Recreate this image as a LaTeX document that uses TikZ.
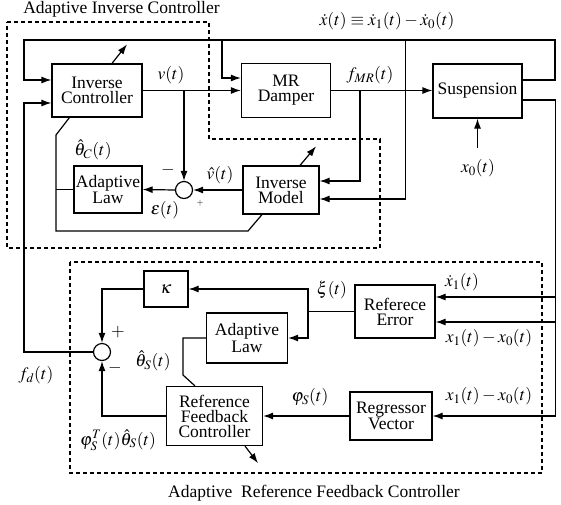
\documentclass[tikz,border=0pt]{standalone}
\usepackage{mathptmx}
\usepackage[no-math]{fontspec}
\setmainfont{Liberation Serif}
\usetikzlibrary{arrows.meta}

\begin{document}
\begin{tikzpicture}[
  x=1pt, y=-1pt,
  font=\fontsize{17.5}{15}\selectfont,
  block/.style={draw, line width=1.2pt, align=center, inner sep=0pt},
  sum/.style={draw, line width=1.2pt, circle, minimum size=17pt, inner sep=0pt},
  sig/.style={inner sep=0.5pt},
  wire/.style={line width=1.2pt},
  arrow/.style={-{Latex[length=10pt,width=7pt]}, line width=1.2pt},
  group/.style={dash pattern=on 4pt off 3pt, line width=1.1pt}
]
\useasboundingbox (0,0) rectangle (561,504);

% blocks of the plant and the inverse controller
\node[block, minimum width=90pt, minimum height=53pt] (invctrl) at (97,90.5) {Inverse\\Controller};
\node[block, minimum width=89pt, minimum height=54pt] (damper) at (286,90.5) {MR\\Damper};
\node[block, minimum width=89pt, minimum height=54pt] (susp) at (477.5,91) {Suspension};
\node[block, minimum width=76pt, minimum height=48pt] (invmodel) at (281,190) {Inverse\\Model};
\node[block, minimum width=68pt, minimum height=47pt] (lawC) at (108,189.5) {Adaptive\\Law};
\node[sum] (sumC) at (184,190) {};

% blocks of the reference feedback controller
\node[block, minimum width=44pt, minimum height=36pt] (kappa) at (166,289) {$\kappa$};
\node[block, minimum width=80pt, minimum height=53pt] (referr) at (395,311.5) {Referece\\Error};
\node[block, minimum width=81pt, minimum height=50pt] (lawS) at (247,338) {Adaptive\\Law};
\node[block, minimum width=96pt, minimum height=59pt] (rfc) at (214.5,416) {Reference\\Feedback\\Controller};
\node[block, minimum width=82pt, minimum height=48pt] (regvec) at (391,416) {Regressor\\Vector};
\node[sum] (sumS) at (102,352) {};

% dashed groups
\draw[group] (7,22) -- (209,22) -- (209,139) -- (380,139) -- (380,248) -- (7,248) -- cycle;
\draw[group] (70,262) rectangle (542,473);
\node[sig] (titleC) at (121.5,9) {Adaptive Inverse Controller};
\node[sig] (titleS) at (314,493) {Adaptive\enspace Reference Feedback Controller};

% upper loop
\coordinate (tl) at (24,40);
\coordinate (tr) at (555,40);
\draw[arrow] ([yshift=11pt]susp.east) -| (tr) -- (tl) |- ([yshift=10.5pt]invctrl.west);
\draw[arrow] (222,40) |- ([yshift=12.5pt]damper.west);
\draw[arrow] (405.5,40) |- ([yshift=-9pt]invmodel.east);
\draw[arrow] (invctrl.east) -- (damper.west);
\draw[arrow] (184,90.5) -- (sumC.north);
\draw[arrow] (damper.east) -- (damper.east -| susp.west);
\draw[arrow] (360,90.5) |- ([yshift=9pt]invmodel.east);
\draw[arrow] (invmodel.west) -- (sumC.east);
\draw[arrow] (sumC.west) -- (lawC.east);
\draw[wire] (lawC.west) -- (56,189.5);
\draw[wire] ([xshift=18pt]invctrl.south west) -- (56,135) -- (56,231) -- (248,231) -- ([xshift=-19pt]invmodel.south);
\draw[arrow] ([xshift=15pt]invctrl.north) -- ++(15,-19);
\draw[arrow] ([xshift=19pt]invmodel.north) -- ++(16,-19);
\coordinate (x0in) at (477.5,148);
\draw[arrow] (x0in) -- (susp.south);

% lower loop
\draw[arrow] ([yshift=-9pt]susp.east) -- ++(33,0) |- (regvec.east);
\draw[arrow] (555,297) -- ([yshift=14.5pt]referr.east);
\draw[arrow] (555,322) -- ([yshift=-10.5pt]referr.east);
\draw[wire] (referr.west) -- (308,311.5);
\draw[arrow] (308,311.5) |- (kappa.east);
\draw[arrow] (308,311.5) |- (lawS.east);
\draw[arrow] (kappa.west) -| (sumS.north);
\draw[arrow] (rfc.west) -| (sumS.south);
\draw[arrow] (regvec.west) -- (rfc.east);
\draw[wire] (lawS.west) -- (183,338) -- (183,375) -- ([xshift=-19.5pt]rfc.north);
\draw[arrow] ([xshift=30.5pt]rfc.south) -- ++(13,17);
\coordinate (fdcorner) at (24,352);
\draw[arrow] (sumS.west) -- (fdcorner) |- ([yshift=-12.5pt]invctrl.west);

% signal labels
\node[sig] (lxdot) at (387,21) {$\dot{x}(t)\equiv\dot{x}_1(t)-\dot{x}_0(t)$};
\node[sig] (lv) at (171,75) {$v(t)$};
\node[sig] (lfmr) at (370,75) {$f_{MR}(t)$};
\node[sig] (lthC) at (93,150) {$\hat{\theta}_C(t)$};
\node[sig] (lminC) at (168,170) {$-$};
\node[sig] (lvhat) at (220,175) {$\hat{v}(t)$};
\node[sig] (lplusC) at (200,203) {\small$+$};
\node[sig] (leps) at (165,210) {$\varepsilon(t)$};
\node[sig] (lx0) at (478,168) {$x_0(t)$};
\node[sig] (lxi) at (332,290) {$\xi(t)$};
\node[sig] (lx1dot) at (462,282) {$\dot{x}_1(t)$};
\node[sig] (ldiffA) at (489,338) {$x_1(t)-x_0(t)$};
\node[sig] (ldiffB) at (489,396) {$x_1(t)-x_0(t)$};
\node[sig] (lphi) at (310,397) {$\varphi_S(t)$};
\node[sig] (lplusS) at (118,332) {$+$};
\node[sig] (lminS) at (115,368) {$-$};
\node[sig] (lfd) at (36,375) {$f_d(t)$};
\node[sig] (lthS) at (153,361) {$\hat{\theta}_S(t)$};
\node[sig] (lout) at (118,440) {$\varphi_S^T(t)\hat{\theta}_S(t)$};
\end{tikzpicture}
\end{document}
